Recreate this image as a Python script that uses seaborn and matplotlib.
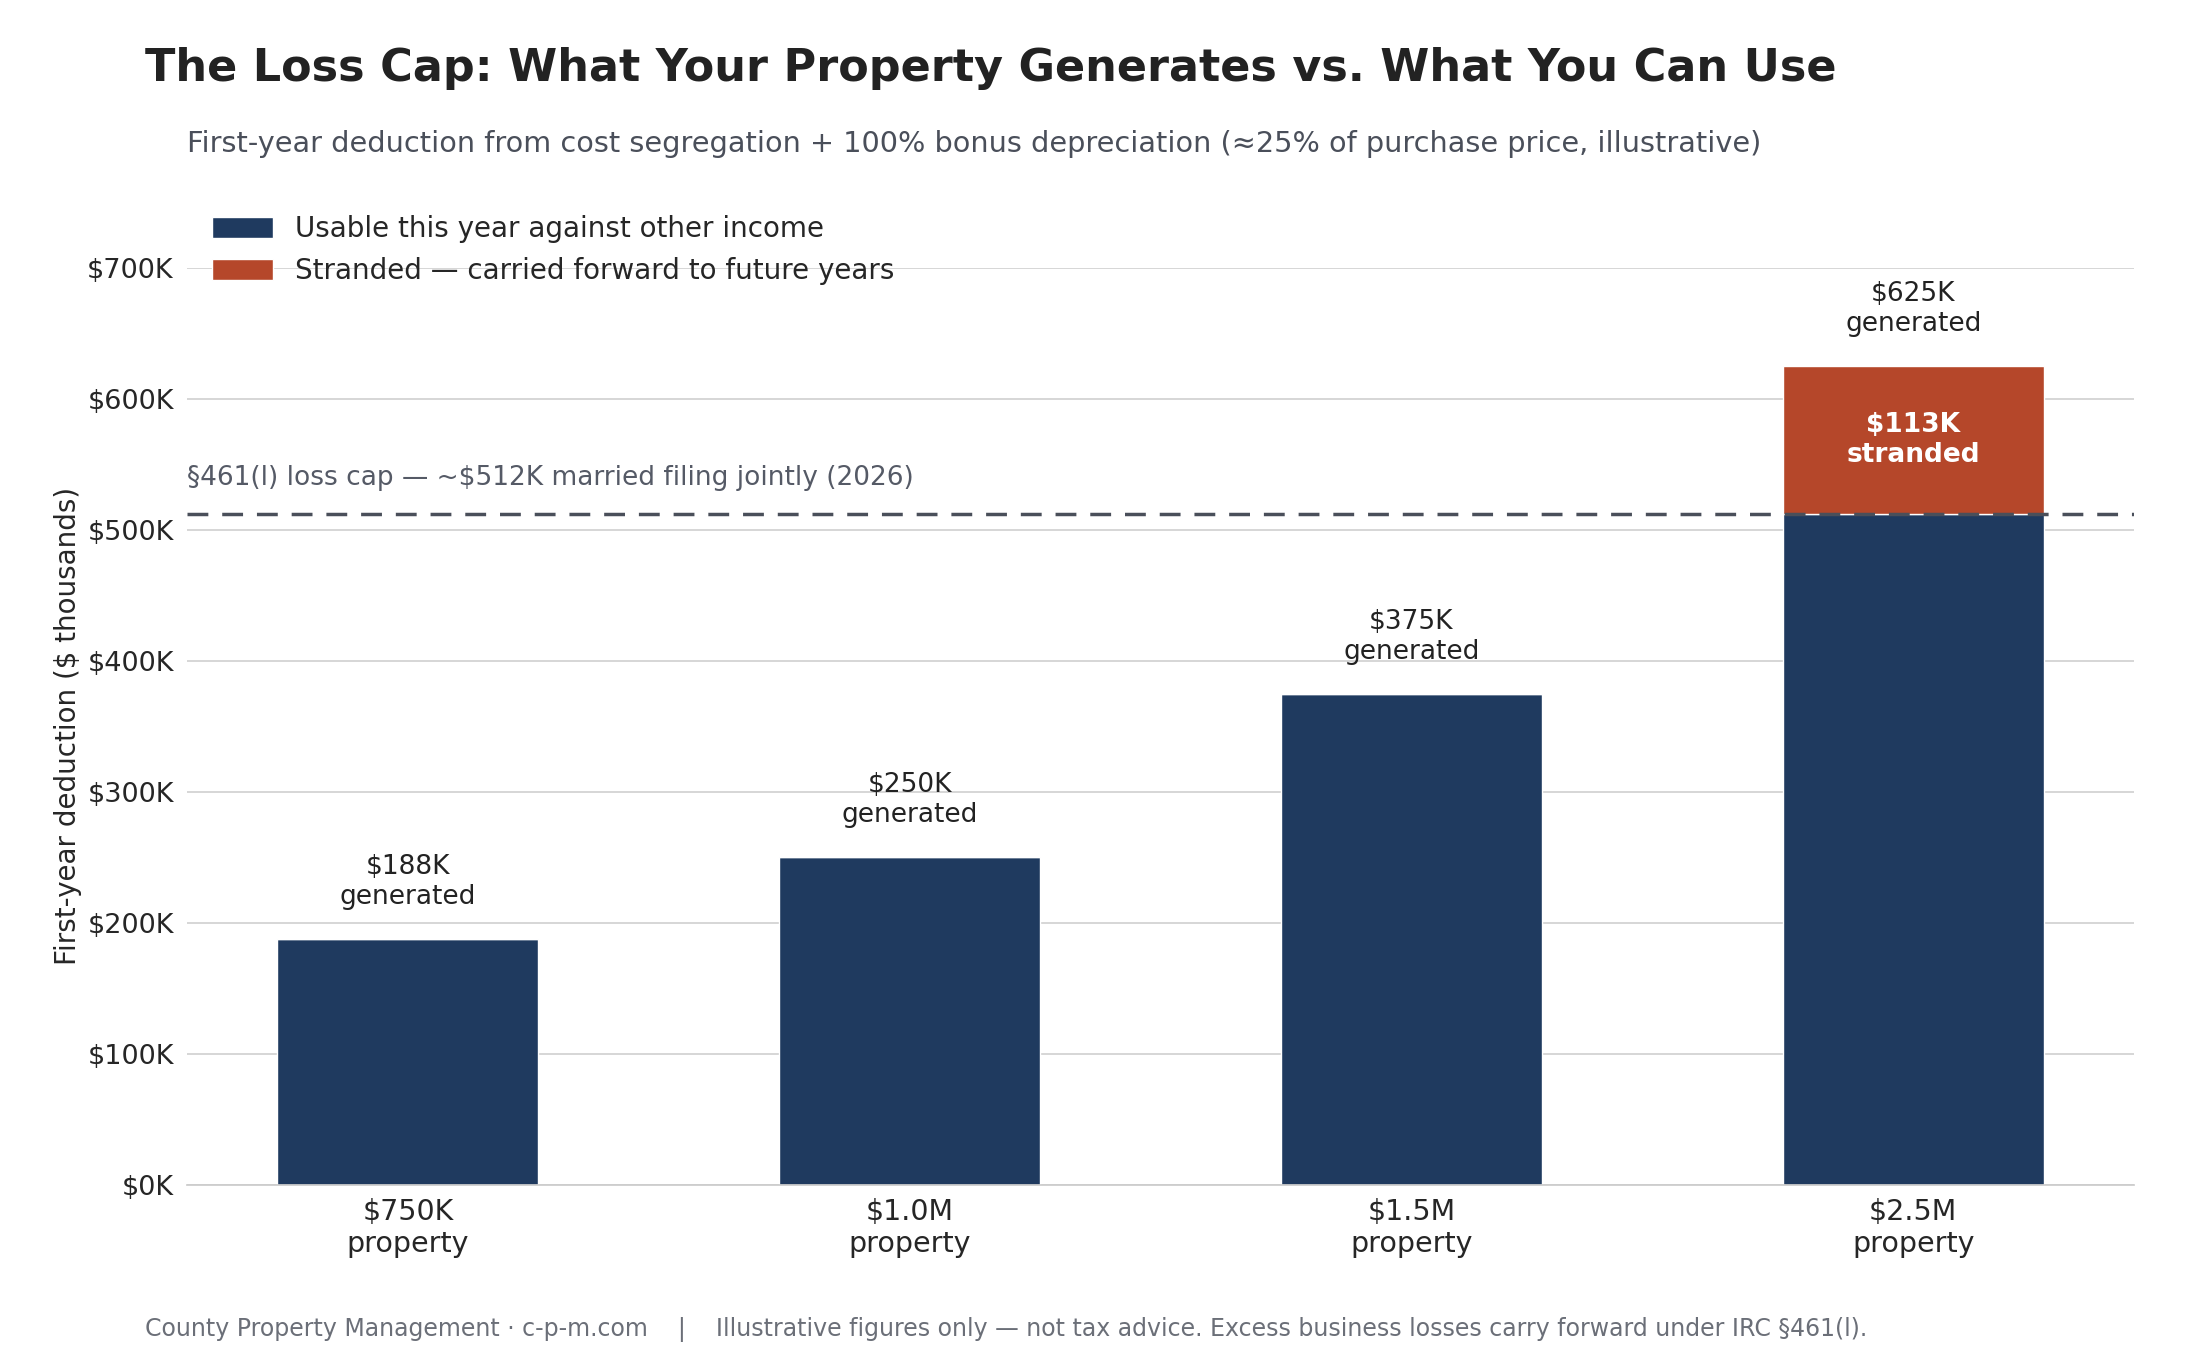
import matplotlib
matplotlib.use("Agg")
import matplotlib.pyplot as plt
import seaborn as sns
import pandas as pd

NAVY = '#1F3A5F'
RUST = '#B5472A'

properties = ['$750K\nproperty', '$1.0M\nproperty', '$1.5M\nproperty', '$2.5M\nproperty']
generated = [187.5, 250, 375, 625]
gen_labels = ['$188K', '$250K', '$375K', '$625K']
loss_cap = 512
usable = [min(g, loss_cap) for g in generated]
stranded = [max(g - loss_cap, 0) for g in generated]

sns.set_theme(style='whitegrid')
plt.rcParams['font.family'] = ['DejaVu Sans']

fig = plt.figure(figsize=(22, 13.6), dpi=100)
ax = fig.add_axes([0.085, 0.129, 0.885, 0.674])

df = pd.DataFrame({'property': properties, 'usable': usable, 'stranded': stranded})
sns.barplot(data=df, x='property', y='usable', color=NAVY, width=0.52, ax=ax,
            label='Usable this year against other income', saturation=1)
ax.bar(range(len(properties)), stranded, bottom=usable, width=0.52, color=RUST,
       label='Stranded — carried forward to future years')

for i, (g, lab, s) in enumerate(zip(generated, gen_labels, stranded)):
    ax.text(i, g + 22, f'{lab}\ngenerated', ha='center', va='bottom', fontsize=19, color='#222222')
    if s > 0:
        ax.text(i, usable[i] + s / 2, f'${round(s)}K\nstranded', ha='center', va='center',
                fontsize=19, color='white', fontweight='bold')

ax.axhline(loss_cap, color='#4a4f5a', linestyle='--', linewidth=2.5, dashes=(6, 4))
ax.text(-0.44, loss_cap + 18, '§461(l) loss cap — ~$512K married filing jointly (2026)',
        fontsize=19, color='#555a66', va='bottom', ha='left')

ax.set_ylim(0, 700)
ax.set_xlim(-0.44, 3.44)
ax.set_yticks(range(0, 701, 100))
ax.set_yticklabels([f'${v}K' for v in range(0, 701, 100)], fontsize=19.5)
ax.tick_params(axis='x', labelsize=20.5)
ax.set_xlabel('')
ax.set_ylabel('First-year deduction ($ thousands)', fontsize=20)
ax.grid(axis='x', visible=False)
ax.grid(axis='y', color='#d0d0d0', linewidth=1.2)
for side in ['top', 'right', 'left']:
    ax.spines[side].set_visible(False)
ax.spines['bottom'].set_color('#cccccc')

ax.legend(loc='upper left', bbox_to_anchor=(0.0, 1.085), frameon=False, fontsize=20,
          handlelength=2.2, handleheight=0.8)

fig.text(0.066, 0.95, 'The Loss Cap: What Your Property Generates vs. What You Can Use',
         fontsize=32, fontweight='bold', color='#222222', va='center')
fig.text(0.085, 0.894, 'First-year deduction from cost segregation + 100% bonus depreciation (≈25% of purchase price, illustrative)',
         fontsize=20.7, color='#4a4f5a', va='center')
fig.text(0.066, 0.013, 'County Property Management · c-p-m.com    |    Illustrative figures only — not tax advice. Excess business losses carry forward under IRC §461(l).',
         fontsize=17, color='#6b6f78', va='bottom')

fig.savefig('out.png', dpi=100)
